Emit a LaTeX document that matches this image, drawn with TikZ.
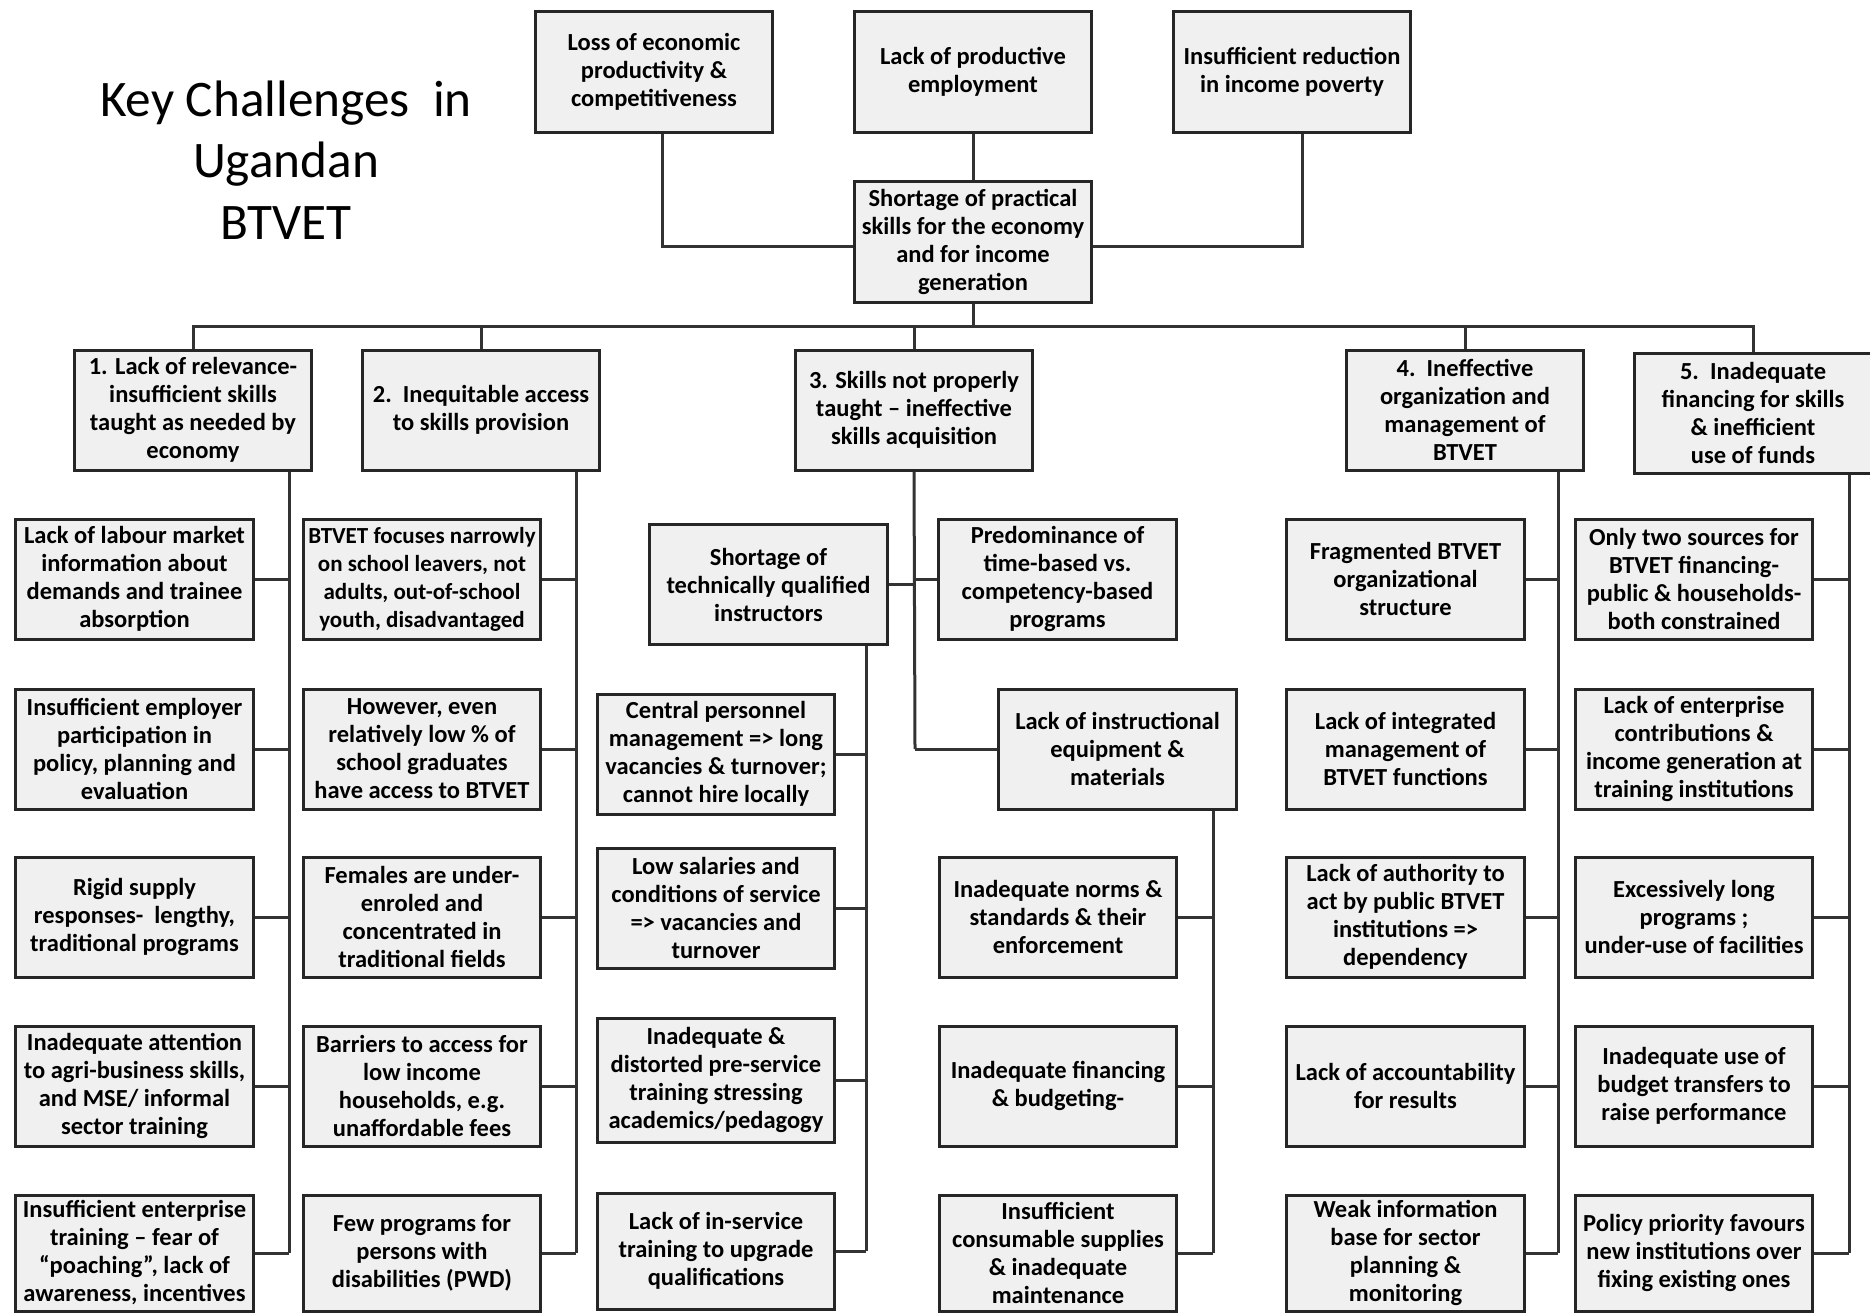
\documentclass[tikz,border=0pt]{standalone}
\usepackage{fontspec}
\setmainfont{Carlito}
\newcommand{\bxfont}{\fontsize{9.8}{11.2}\selectfont\bfseries}
\newcommand{\bxsmall}{\fontsize{9.2}{11.2}\selectfont\bfseries}
\tikzset{
  box/.style={draw=black!85, fill=black!6, line width=1.2pt, minimum width=95pt,
    minimum height=48pt, inner sep=0pt, align=center, font=\bxfont},
  lastrow/.style={minimum height=46.4pt},
  conn/.style={draw=black!80, line width=1.2pt},
}
\begin{document}
\begin{tikzpicture}[x=0.4pt,y=-0.4pt]
\useasboundingbox (0,0) rectangle (1870,1313);
% title
\node[font=\fontsize{20.5}{24.5}\selectfont, align=center] (title) at (286,160) {Key Challenges\ \ in\\Ugandan\\BTVET};
% top level
\node[box] (t1) at (654,72) {Loss of economic\\productivity \&\\competitiveness};
\node[box] (t2) at (973,72) {Lack of productive\\employment};
\node[box] (t3) at (1292,72) {Insufficient reduction\\in income poverty};
\node[box, minimum height=48.4pt] (c0) at (973,241.5) {Shortage of practical\\skills for the economy\\and for income\\generation};
% categories
\node[box] (k1) at (193,410) {1. Lack of relevance-\\insufficient skills\\taught as needed by\\economy};
\node[box] (k2) at (481,410) {2.\ \ Inequitable access\\to skills provision};
\node[box] (k3) at (914,410) {3. Skills not properly\\taught -- ineffective\\skills acquisition};
\node[box] (k4) at (1465,410) {4.\ \ Ineffective\\organization and\\management of\\BTVET};
\node[box] (k5) at (1753,413) {5.\ \ Inadequate\\financing for skills\\\& inefficient\\use of funds};
% column A
\node[box] (a1) at (134.5,579) {Lack of labour market\\information about\\demands and trainee\\absorption};
\node[box] (a2) at (134.5,749) {Insufficient employer\\participation in\\policy, planning and\\evaluation};
\node[box] (a3) at (134.5,917) {Rigid supply\\responses-\ \ lengthy,\\traditional programs};
\node[box] (a4) at (134.5,1086) {Inadequate attention\\to agri-business skills,\\and MSE/ informal\\sector training};
\node[box,lastrow] (a5) at (134.5,1253) {Insufficient enterprise\\training -- fear of\\``poaching'', lack of\\awareness, incentives};
% column B
\node[box, font=\bxsmall] (b1) at (422,579) {BTVET focuses narrowly\\on school leavers, not\\adults, out-of-school\\youth, disadvantaged};
\node[box] (b2) at (422,749) {However, even\\relatively low \% of\\school graduates\\have access to BTVET};
\node[box] (b3) at (422,917) {Females are under-\\enroled and\\concentrated in\\traditional fields};
\node[box] (b4) at (422,1086) {Barriers to access for\\low income\\households, e.g.\\unaffordable fees};
\node[box,lastrow] (b5) at (422,1253) {Few programs for\\persons with\\disabilities (PWD)};
% column C
\node[box] (ct) at (768.5,584.5) {Shortage of\\technically qualified\\instructors};
\node[box] (cp) at (1057.5,579) {Predominance of\\time-based vs.\\competency-based\\programs};
\node[box] (ci) at (1117.5,749) {Lack of instructional\\equipment \&\\materials};
\node[box] (s1) at (716,754) {Central personnel\\management => long\\vacancies \& turnover;\\cannot hire locally};
\node[box] (s2) at (716,908) {Low salaries and\\conditions of service\\=> vacancies and\\turnover};
\node[box, minimum height=49.6pt] (s3) at (716,1080) {Inadequate \&\\distorted pre-service\\training stressing\\academics/pedagogy};
\node[box,lastrow] (s4) at (716,1251) {Lack of in-service\\training to upgrade\\qualifications};
% column D
\node[box] (d1) at (1058,917) {Inadequate norms \&\\standards \& their\\enforcement};
\node[box] (d2) at (1058,1086) {Inadequate financing\\\& budgeting-};
\node[box,lastrow] (d3) at (1058,1253) {Insufficient\\consumable supplies\\\& inadequate\\maintenance};
% column E
\node[box] (e1) at (1405.5,579) {Fragmented BTVET\\organizational\\structure};
\node[box] (e2) at (1405.5,749) {Lack of integrated\\management of\\BTVET functions};
\node[box] (e3) at (1405.5,917) {Lack of authority to\\act by public BTVET\\institutions =>\\dependency};
\node[box] (e4) at (1405.5,1086) {Lack of accountability\\for results};
\node[box,lastrow] (e5) at (1405.5,1253) {Weak information\\base for sector\\planning \&\\monitoring};
% column F
\node[box] (f1) at (1694,579) {Only two sources for\\BTVET financing-\\public \& households-\\both constrained};
\node[box] (f2) at (1694,749) {Lack of enterprise\\contributions \&\\income generation at\\training institutions};
\node[box] (f3) at (1694,917) {Excessively long\\programs ;\\under-use of facilities};
\node[box] (f4) at (1694,1086) {Inadequate use of\\budget transfers to\\raise performance};
\node[box,lastrow] (f5) at (1694,1253) {Policy priority favours\\new institutions over\\fixing existing ones};
% junction coordinates
\coordinate (j1) at (662,246);
\coordinate (j3) at (1302,246);
\coordinate (bus) at (973,326);
\coordinate (sA) at (289,0);
\coordinate (sB) at (576,0);
\coordinate (sC) at (915,0);
\coordinate (sS) at (866,0);
\coordinate (sD) at (1213,0);
\coordinate (sE) at (1558,0);
\coordinate (sF) at (1849,0);
% top connectors
\draw[conn] (t1.south -| j1) -- (j1) -- (j1 -| c0.west);
\draw[conn] (t3.south -| j3) -- (j3) -- (j3 -| c0.east);
\draw[conn] (t2.south) -- (c0.north);
\draw[conn] (c0.south) -- (bus);
\draw[conn] (k1.north) -- (k1.north |- bus) -- (k5.north |- bus) -- (k5.north);
\foreach \k in {k2,k3,k4} \draw[conn] (\k.north) -- (\k.north |- bus);
% column spines
\draw[conn] (k1.south -| sA) -- (a5.east -| sA);
\foreach \n in {a1,a2,a3,a4,a5} \draw[conn] (\n.east) -- (\n.east -| sA);
\draw[conn] (k2.south -| sB) -- (b5.east -| sB);
\foreach \n in {b1,b2,b3,b4,b5} \draw[conn] (\n.east) -- (\n.east -| sB);
\draw[conn] (k3.south) -- (ci.west -| sC);
\draw[conn] (ct.east) -- (ct.east -| sC);
\draw[conn] (cp.west) -- (cp.west -| sC);
\draw[conn] (ci.west) -- (ci.west -| sC);
\draw[conn] (ct.south -| sS) -- (s4.east -| sS);
\foreach \n in {s1,s2,s3,s4} \draw[conn] (\n.east) -- (\n.east -| sS);
\draw[conn] (ci.south -| sD) -- (d3.east -| sD);
\foreach \n in {d1,d2,d3} \draw[conn] (\n.east) -- (\n.east -| sD);
\draw[conn] (k4.south -| sE) -- (e5.east -| sE);
\foreach \n in {e1,e2,e3,e4,e5} \draw[conn] (\n.east) -- (\n.east -| sE);
\draw[conn] (k5.south -| sF) -- (f5.east -| sF);
\foreach \n in {f1,f2,f3,f4,f5} \draw[conn] (\n.east) -- (\n.east -| sF);
\end{tikzpicture}
\end{document}
